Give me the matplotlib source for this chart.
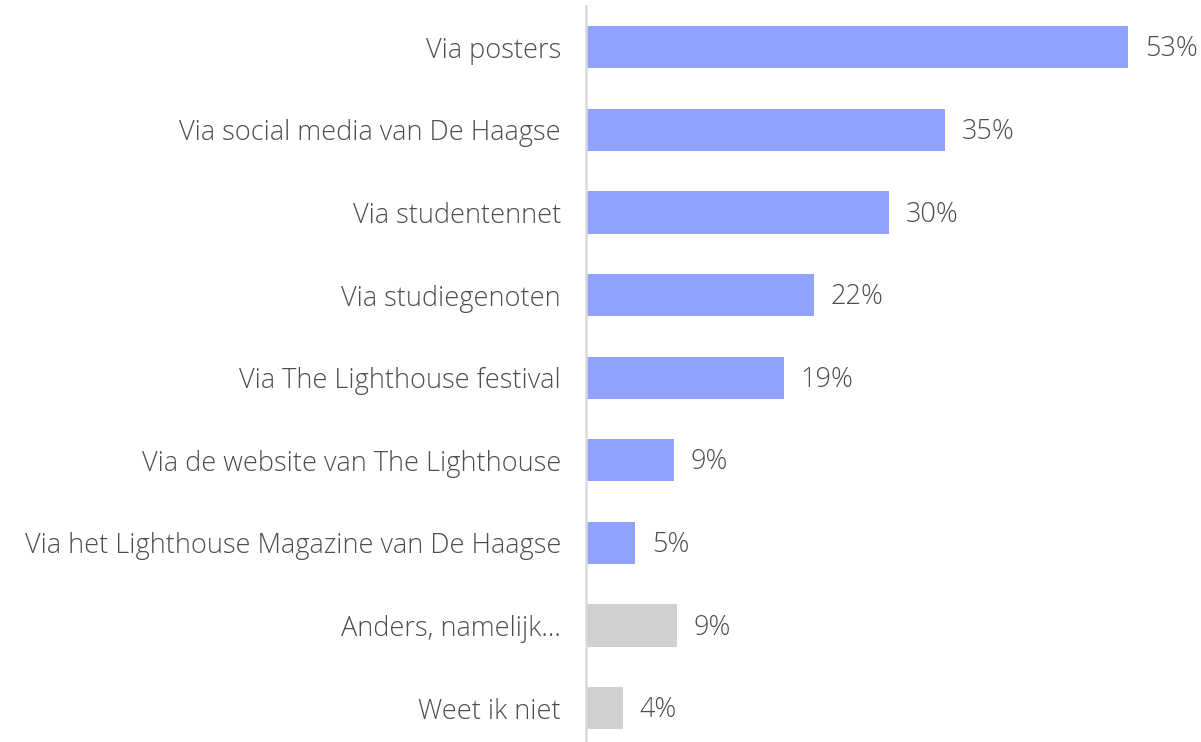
import matplotlib.pyplot as plt
from matplotlib import font_manager

categories = [
    'Via posters',
    'Via social media van De Haagse',
    'Via studentennet',
    'Via studiegenoten',
    'Via The Lighthouse festival',
    'Via de website van The Lighthouse',
    'Via het Lighthouse Magazine van De Haagse',
    'Anders, namelijk…',
    'Weet ik niet',
]
values = [52.9, 35.0, 29.6, 22.2, 19.3, 8.6, 4.8, 8.9, 3.6]
is_other = [False, False, False, False, False, False, False, True, True]

blue = '#8fa2ff'
grey = '#d0d0d0'
text_color = '#4d4d4d'

names = {f.name for f in font_manager.fontManager.ttflist}
family = 'Open Sans' if 'Open Sans' in names else 'DejaVu Sans'
plt.rcParams['font.family'] = [family, 'DejaVu Sans']

fig = plt.figure(figsize=(12.01, 7.42), dpi=100)
ax = fig.add_axes([586 / 1201, 0, 615 / 1201, 736 / 742])

y = list(range(len(categories)))
colors = [grey if o else blue for o in is_other]
ax.barh(y, values, height=0.51, color=colors)

for yi, v in zip(y, values):
    ax.annotate(f'{round(v)}%', (v, yi), xytext=(12, -1.5), textcoords='offset points',
                va='center', ha='left', fontsize=19.5, color=text_color, fontweight=300)

ax.set_xlim(0, 60)
ax.set_ylim(8.41, -0.5)
ax.set_yticks(y)
ax.set_yticklabels(categories, fontsize=19.5, color=text_color, fontweight=300)
ax.tick_params(axis='y', length=0, pad=18)
ax.set_xticks([])
for side in ['top', 'right', 'bottom']:
    ax.spines[side].set_visible(False)
ax.spines['left'].set_color('#d9d9d9')
ax.spines['left'].set_linewidth(1.8)

fig.savefig('out.png', dpi=100)
